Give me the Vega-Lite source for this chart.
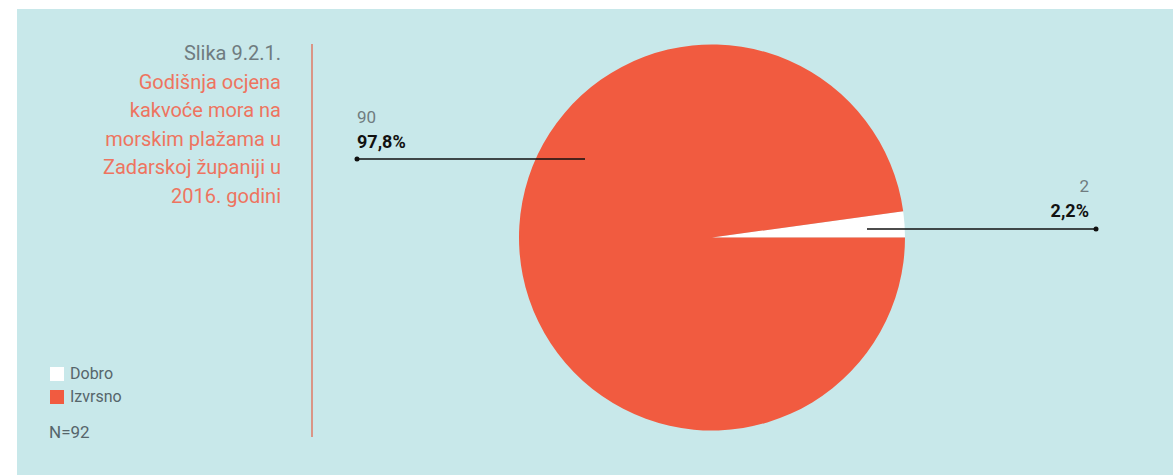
{
  "$schema": "https://vega.github.io/schema/vega-lite/v6.json",
  "width": 1156,
  "height": 466,
  "autosize": {"type": "none"},
  "padding": {"left": 17, "top": 9, "right": 0, "bottom": 0},
  "background": "white",
  "view": {"fill": "#c8e8ea", "stroke": null},
  "config": {"font": "Roboto"},
  "datasets": {
    "pie": [
      {"kategorija": "Dobro", "broj": 2},
      {"kategorija": "Izvrsno", "broj": 90}
    ],
    "slika": [
      {"x": 264, "y": 45, "tekst": "Slika 9.2.1."}
    ],
    "naslov": [
      {"x": 264, "y": 74, "tekst": "Godišnja ocjena"},
      {"x": 264, "y": 102, "tekst": "kakvoće mora na"},
      {"x": 264, "y": 131, "tekst": "morskim plažama u"},
      {"x": 264, "y": 159, "tekst": "Zadarskoj županiji u"},
      {"x": 264, "y": 188, "tekst": "2016. godini"}
    ],
    "crta": [{"x": 295, "y": 35, "y2": 428}],
    "vodice": [
      {"x": 340, "x2": 568, "y": 150, "tx": 340, "ty": 150},
      {"x": 850, "x2": 1079, "y": 220, "tx": 1079, "ty": 220}
    ],
    "lijevo": [
      {"x": 340, "y": 109, "broj": "90", "postotak": "97,8%", "yp": 134}
    ],
    "desno": [
      {"x": 1072, "y": 178, "broj": "2", "postotak": "2,2%", "yp": 203}
    ],
    "n": [{"x": 32, "y": 424, "tekst": "N=92"}]
  },
  "layer": [
    {
      "data": {"name": "crta"},
      "mark": {"type": "rule", "color": "#e07a64", "strokeWidth": 1.5},
      "encoding": {
        "x": {"field": "x", "type": "quantitative", "scale": {"domain": [0, 1156], "nice": false}, "axis": null},
        "y": {"field": "y", "type": "quantitative", "scale": {"domain": [0, 466], "nice": false, "reverse": true}, "axis": null},
        "y2": {"field": "y2"}
      }
    },
    {
      "data": {"name": "pie"},
      "mark": {"type": "arc", "radius": 193, "stroke": null},
      "encoding": {
        "theta": {"field": "broj", "type": "quantitative", "stack": true, "scale": {"range": [1.4342, 7.7174]}},
        "order": {"field": "kategorija", "sort": "ascending"},
        "color": {
          "field": "kategorija",
          "type": "nominal",
          "scale": {"domain": ["Dobro", "Izvrsno"], "range": ["#ffffff", "#f15b40"]},
          "legend": {
            "title": null,
            "orient": "none",
            "legendX": 32,
            "legendY": 357,
            "symbolType": "square",
            "symbolSize": 196,
            "symbolStrokeWidth": 0,
            "symbolOpacity": 1,
            "labelFont": "Roboto",
            "labelFontSize": 16,
            "labelColor": "#56656a",
            "labelOffset": 5,
            "rowPadding": 7
          }
        },
        "x": {"datum": 695, "type": "quantitative"},
        "y": {"datum": 228.5, "type": "quantitative"}
      }
    },
    {
      "data": {"name": "slika"},
      "mark": {"type": "text", "align": "right", "baseline": "middle", "fontSize": 20, "font": "Roboto", "color": "#6f7c80"},
      "encoding": {
        "x": {"field": "x", "type": "quantitative"},
        "y": {"field": "y", "type": "quantitative"},
        "text": {"field": "tekst"}
      }
    },
    {
      "data": {"name": "naslov"},
      "mark": {"type": "text", "align": "right", "baseline": "middle", "fontSize": 20, "font": "Roboto", "color": "#ee7460"},
      "encoding": {
        "x": {"field": "x", "type": "quantitative"},
        "y": {"field": "y", "type": "quantitative"},
        "text": {"field": "tekst"}
      }
    },
    {
      "data": {"name": "vodice"},
      "mark": {"type": "rule", "color": "#111111", "strokeWidth": 1.3},
      "encoding": {
        "x": {"field": "x", "type": "quantitative"},
        "x2": {"field": "x2"},
        "y": {"field": "y", "type": "quantitative"}
      }
    },
    {
      "data": {"name": "vodice"},
      "mark": {"type": "point", "filled": true, "color": "#111111", "size": 25, "opacity": 1},
      "encoding": {
        "x": {"field": "tx", "type": "quantitative"},
        "y": {"field": "ty", "type": "quantitative"}
      }
    },
    {
      "data": {"name": "lijevo"},
      "mark": {"type": "text", "align": "left", "baseline": "middle", "fontSize": 17, "color": "#707c80", "font": "Roboto"},
      "encoding": {
        "x": {"field": "x", "type": "quantitative"},
        "y": {"field": "y", "type": "quantitative"},
        "text": {"field": "broj"}
      }
    },
    {
      "data": {"name": "lijevo"},
      "mark": {"type": "text", "align": "left", "baseline": "middle", "fontSize": 18, "fontWeight": "bold", "color": "#111111", "font": "Roboto"},
      "encoding": {
        "x": {"field": "x", "type": "quantitative"},
        "y": {"field": "yp", "type": "quantitative"},
        "text": {"field": "postotak"}
      }
    },
    {
      "data": {"name": "desno"},
      "mark": {"type": "text", "align": "right", "baseline": "middle", "fontSize": 17, "color": "#707c80", "font": "Roboto"},
      "encoding": {
        "x": {"field": "x", "type": "quantitative"},
        "y": {"field": "y", "type": "quantitative"},
        "text": {"field": "broj"}
      }
    },
    {
      "data": {"name": "desno"},
      "mark": {"type": "text", "align": "right", "baseline": "middle", "fontSize": 18, "fontWeight": "bold", "color": "#111111", "font": "Roboto"},
      "encoding": {
        "x": {"field": "x", "type": "quantitative"},
        "y": {"field": "yp", "type": "quantitative"},
        "text": {"field": "postotak"}
      }
    },
    {
      "data": {"name": "n"},
      "mark": {"type": "text", "align": "left", "baseline": "middle", "fontSize": 17, "color": "#56656a", "font": "Roboto"},
      "encoding": {
        "x": {"field": "x", "type": "quantitative"},
        "y": {"field": "y", "type": "quantitative"},
        "text": {"field": "tekst"}
      }
    }
  ]
}
